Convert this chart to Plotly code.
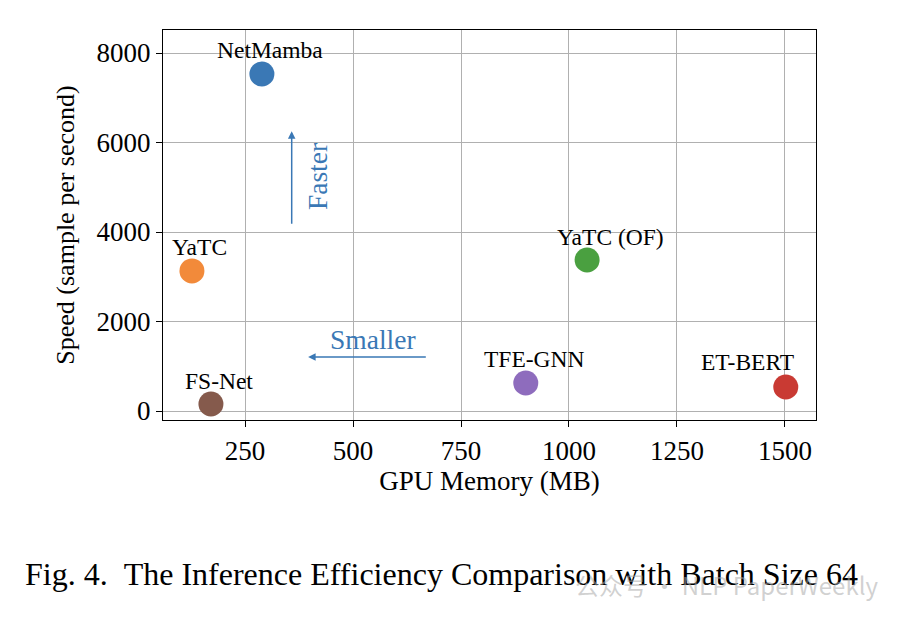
import plotly.graph_objects as go

models = ["NetMamba", "YaTC", "FS-Net", "TFE-GNN", "YaTC (OF)", "ET-BERT"]
gpu_memory_mb = [289, 127, 171, 900, 1042, 1502]
speed_sps = [7530, 3130, 156, 626, 3374, 536]
color_map = {"NetMamba": "#3a78b5", "YaTC": "#f28a3a", "YaTC (OF)": "#4aa040",
             "TFE-GNN": "#8e6cbd", "ET-BERT": "#c93a33", "FS-Net": "#855a4c"}
x_ticks = [250, 500, 750, 1000, 1250, 1500]
y_ticks = [0, 2000, 4000, 6000, 8000]
label_shift = {"NetMamba": (8, 24), "YaTC": (8, 24), "FS-Net": (8, 23),
               "TFE-GNN": (9, 24), "YaTC (OF)": (23, 23), "ET-BERT": (-38, 25)}

FONT = "Liberation Serif, Times New Roman, serif"
ARROW = "#3a78b5"

fig = go.Figure()
fig.add_trace(go.Scatter(
    x=gpu_memory_mb, y=speed_sps, mode="markers",
    marker=dict(size=25, color=[color_map[m] for m in models], line=dict(width=0)),
    showlegend=False, hoverinfo="text", text=models,
))

for m, xv, yv in zip(models, gpu_memory_mb, speed_sps):
    dx, dy = label_shift[m]
    fig.add_annotation(x=xv, y=yv, text=m, showarrow=False, xshift=dx, yshift=dy,
                       font=dict(family=FONT, size=23.5, color="black"))

# Direction arrows
fig.add_annotation(x=358, y=6250, ax=358, ay=4150, xref="x", yref="y", axref="x", ayref="y",
                   text="", showarrow=True, arrowhead=2, arrowsize=1, arrowwidth=1.5,
                   arrowcolor=ARROW)
fig.add_annotation(x=418, y=5240, text="Faster", showarrow=False, textangle=-90,
                   font=dict(family=FONT, size=27.5, color=ARROW))
fig.add_annotation(x=396, y=1207, ax=672, ay=1207, xref="x", yref="y", axref="x", ayref="y",
                   text="", showarrow=True, arrowhead=2, arrowsize=1, arrowwidth=1.5,
                   arrowcolor=ARROW)
fig.add_annotation(x=546, y=1600, text="Smaller", showarrow=False,
                   font=dict(family=FONT, size=27.5, color=ARROW))

# Caption
fig.add_annotation(xref="paper", yref="paper", x=0.426, y=-0.395, xanchor="center",
                   yanchor="middle", showarrow=False,
                   text="Fig. 4.&nbsp;&nbsp;The Inference Efficiency Comparison with Batch Size 64",
                   font=dict(family=FONT, size=32, color="black"))
# Watermark
fig.add_annotation(xref="paper", yref="paper", x=1.098, y=-0.423, xanchor="right",
                   yanchor="middle", showarrow=False,
                   text="公众号 · NLP PaperWeekly",
                   font=dict(family="Noto Sans CJK SC, Noto Sans, sans-serif", size=24,
                             color="rgba(170,170,170,0.55)"))

axis_common = dict(
    showline=True, linecolor="black", linewidth=1.2, mirror=True,
    showgrid=True, gridcolor="#b0b0b0", gridwidth=1.2,
    ticks="outside", ticklen=6, tickwidth=1.2, tickcolor="black",
    tickfont=dict(family=FONT, size=27, color="black"),
    zeroline=False,
)

fig.update_layout(
    width=910, height=620,
    margin=dict(l=155, r=102, t=22, b=208),
    paper_bgcolor="white", plot_bgcolor="white",
    xaxis=dict(range=[60, 1572], tickvals=x_ticks, ticktext=[str(v) for v in x_ticks],
               title=dict(text="GPU Memory (MB)", font=dict(family=FONT, size=27, color="black"),
                          standoff=6),
               **axis_common),
    yaxis=dict(range=[-201, 8514], tickvals=y_ticks, ticktext=[str(v) for v in y_ticks],
               title=dict(text="Speed (sample per second)",
                          font=dict(family=FONT, size=26, color="black"), standoff=14),
               **axis_common),
    showlegend=False,
)

fig.write_html("out.html")
